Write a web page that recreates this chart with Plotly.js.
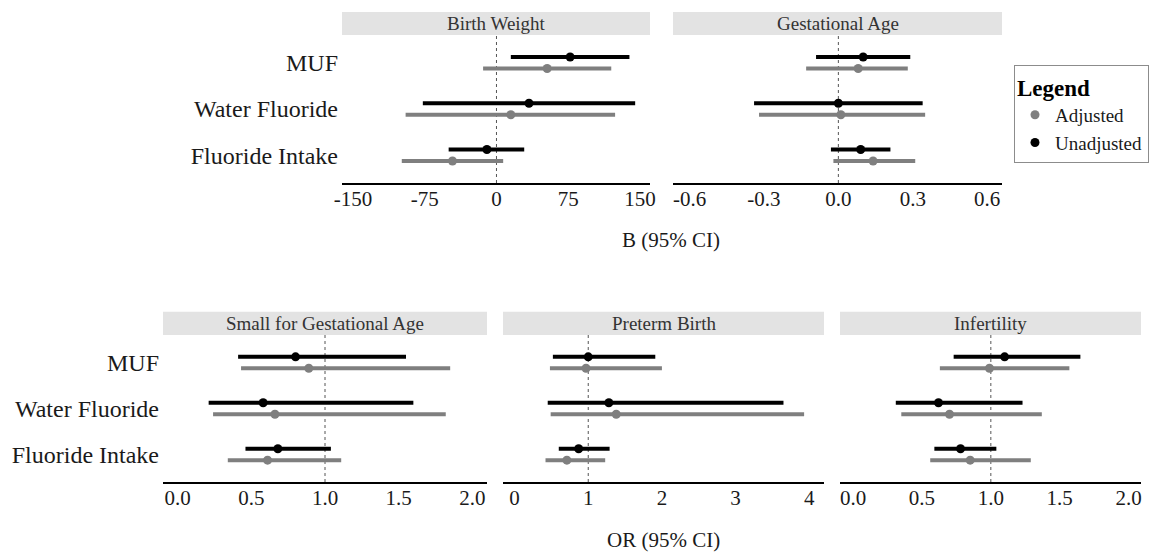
<!DOCTYPE html>
<html>
<head>
<meta charset="utf-8">
<script src="https://cdn.plot.ly/plotly-3.0.1.min.js"></script>
<style>html,body{margin:0;padding:0;background:#fff;}#chart{width:1155px;height:560px;}</style>
</head>
<body>
<div id="chart"></div>
<script>
// Categories (display order top to bottom)
const categories = ['MUF', 'Water Fluoride', 'Fluoride Intake'];
const groups = ['Adjusted', 'Unadjusted'];

// Birth Weight (B, 95% CI)
const bwUnadjEst = [77, 34, -10];
const bwUnadjLo  = [15, -77, -50];
const bwUnadjHi  = [139, 145, 29];
const bwAdjEst   = [53, 15, -46];
const bwAdjLo    = [-14, -95, -99];
const bwAdjHi    = [120, 124, 7];

// Gestational Age (B, 95% CI)
const gaUnadjEst = [0.10, 0.00, 0.09];
const gaUnadjLo  = [-0.09, -0.34, -0.03];
const gaUnadjHi  = [0.29, 0.34, 0.21];
const gaAdjEst   = [0.08, 0.01, 0.14];
const gaAdjLo    = [-0.13, -0.32, -0.02];
const gaAdjHi    = [0.28, 0.35, 0.31];

// Small for Gestational Age (OR, 95% CI)
const sgaUnadjEst = [0.80, 0.58, 0.68];
const sgaUnadjLo  = [0.41, 0.21, 0.46];
const sgaUnadjHi  = [1.55, 1.60, 1.04];
const sgaAdjEst   = [0.89, 0.66, 0.61];
const sgaAdjLo    = [0.43, 0.24, 0.34];
const sgaAdjHi    = [1.85, 1.82, 1.11];

// Preterm Birth (OR, 95% CI)
const pbUnadjEst = [1.00, 1.28, 0.87];
const pbUnadjLo  = [0.52, 0.45, 0.60];
const pbUnadjHi  = [1.91, 3.65, 1.29];
const pbAdjEst   = [0.97, 1.38, 0.71];
const pbAdjLo    = [0.48, 0.49, 0.42];
const pbAdjHi    = [2.00, 3.93, 1.23];

// Infertility (OR, 95% CI)
const ifUnadjEst = [1.10, 0.62, 0.78];
const ifUnadjLo  = [0.73, 0.31, 0.59];
const ifUnadjHi  = [1.65, 1.23, 1.04];
const ifAdjEst   = [0.99, 0.70, 0.85];
const ifAdjLo    = [0.63, 0.35, 0.56];
const ifAdjHi    = [1.57, 1.37, 1.29];

// Tick labels
const bwTicks = [-150, -75, 0, 75, 150];
const bwTickText = ['-150', '-75', '0', '75', '150'];
const gaTicks = [-0.6, -0.3, 0, 0.3, 0.6];
const gaTickText = ['-0.6', '-0.3', '0.0', '0.3', '0.6'];
const orTicks = [0, 0.5, 1, 1.5, 2];
const orTickText = ['0.0', '0.5', '1.0', '1.5', '2.0'];
const pbTicks = [0, 1, 2, 3, 4];
const pbTickText = ['0', '1', '2', '3', '4'];

const panelTitles = ['Birth Weight', 'Gestational Age', 'Small for Gestational Age', 'Preterm Birth', 'Infertility'];

const FONT = 'Liberation Serif';
const COL_ADJ = '#7f7f7f';
const COL_UNADJ = '#000000';
const DODGE = 0.125;

const catPos = categories.map((c, i) => categories.length - i);
const tickVals = catPos;

const panels = [
  {xa: 'x',  ya: 'y',  un: [bwUnadjEst, bwUnadjLo, bwUnadjHi],   ad: [bwAdjEst, bwAdjLo, bwAdjHi]},
  {xa: 'x2', ya: 'y2', un: [gaUnadjEst, gaUnadjLo, gaUnadjHi],   ad: [gaAdjEst, gaAdjLo, gaAdjHi]},
  {xa: 'x3', ya: 'y3', un: [sgaUnadjEst, sgaUnadjLo, sgaUnadjHi], ad: [sgaAdjEst, sgaAdjLo, sgaAdjHi]},
  {xa: 'x4', ya: 'y4', un: [pbUnadjEst, pbUnadjLo, pbUnadjHi],   ad: [pbAdjEst, pbAdjLo, pbAdjHi]},
  {xa: 'x5', ya: 'y5', un: [ifUnadjEst, ifUnadjLo, ifUnadjHi],   ad: [ifAdjEst, ifAdjLo, ifAdjHi]}
];

function mkTrace(p, set, name, color, offset, show) {
  const [est, lo, hi] = set;
  return {
    type: 'scatter', mode: 'markers',
    x: est, y: catPos.map(v => v + offset),
    xaxis: p.xa, yaxis: p.ya,
    name: name, legendgroup: name, showlegend: show,
    marker: {color: color, size: 9},
    error_x: {
      type: 'data', symmetric: false,
      array: hi.map((h, i) => h - est[i]),
      arrayminus: lo.map((l, i) => est[i] - l),
      color: color, thickness: 4, width: 0
    },
    hoverinfo: 'skip'
  };
}

const traces = [];
panels.forEach((p, k) => {
  traces.push(mkTrace(p, p.ad, groups[0], COL_ADJ, -DODGE, k === 0));
  traces.push(mkTrace(p, p.un, groups[1], COL_UNADJ, DODGE, k === 0));
});

const W = 1155, H = 560;
const topY = [1 - 183 / H, 1 - 35 / H];
const botY = [1 - 482 / H, 1 - 335 / H];

function xAxis(dom, rng, tv, tt, anchor) {
  return {
    domain: dom, range: rng, anchor: anchor,
    tickvals: tv, ticktext: tt, ticks: '',
    ticklabelstandoff: -4,
    showgrid: false, zeroline: false,
    showline: true, linecolor: '#000', linewidth: 2,
    tickfont: {family: FONT, size: 21, color: '#1a1a1a'},
    fixedrange: true
  };
}
function yAxis(dom, anchor, showLabels) {
  return {
    domain: dom, range: [0.4, 3.6], anchor: anchor,
    tickvals: tickVals, ticktext: categories, ticks: '',
    ticklabelstandoff: 3,
    showticklabels: showLabels,
    showgrid: false, zeroline: false, showline: false,
    tickfont: {family: FONT, size: 24, color: '#1a1a1a'},
    fixedrange: true
  };
}

const layout = {
  width: W, height: H,
  margin: {l: 0, r: 0, t: 0, b: 0},
  paper_bgcolor: '#fff', plot_bgcolor: '#fff',
  font: {family: FONT, color: '#1a1a1a'},
  xaxis:  xAxis([342 / W, 650 / W], [-161.5, 160.5], bwTicks, bwTickText, 'y'),
  xaxis2: xAxis([673 / W, 1002 / W], [-0.667, 0.66], gaTicks, gaTickText, 'y2'),
  xaxis3: xAxis([163 / W, 487 / W], [-0.1, 2.1], orTicks, orTickText, 'y3'),
  xaxis4: xAxis([503 / W, 824 / W], [-0.157, 4.2], pbTicks, pbTickText, 'y4'),
  xaxis5: xAxis([840 / W, 1141 / W], [-0.095, 2.09], orTicks, orTickText, 'y5'),
  yaxis:  yAxis(topY, 'x', true),
  yaxis2: yAxis(topY, 'x2', false),
  yaxis3: yAxis(botY, 'x3', true),
  yaxis4: yAxis(botY, 'x4', false),
  yaxis5: yAxis(botY, 'x5', false),
  showlegend: true,
  legend: {
    x: 1014 / W, y: 1 - 65 / H, xanchor: 'left', yanchor: 'top',
    bordercolor: '#8c8c8c', borderwidth: 1, bgcolor: '#fff',
    title: {text: '<b>Legend</b>', font: {family: FONT, size: 23, color: '#000'}},
    font: {family: FONT, size: 19, color: '#1a1a1a'},
    tracegroupgap: 0, itemwidth: 30
  },
  shapes: [],
  annotations: []
};

const refLines = [0, 0, 1, 1, 1];
panels.forEach((p, k) => {
  const xn = p.xa === 'x' ? '' : p.xa.slice(1);
  const top = k < 2;
  // strip background
  layout.shapes.push({
    type: 'rect', xref: 'x' + xn + ' domain', yref: 'paper',
    x0: 0, x1: 1,
    y0: top ? 1 - 35 / H : 1 - 335 / H,
    y1: top ? 1 - 12 / H : 1 - 311.7 / H,
    fillcolor: '#e3e3e3', line: {width: 0}, layer: 'below'
  });
  // reference line
  layout.shapes.push({
    type: 'line', xref: 'x' + xn, yref: 'y' + xn + ' domain',
    x0: refLines[k], x1: refLines[k], y0: 0, y1: 1,
    line: {color: '#555', width: 1, dash: 'dot'}, layer: 'below'
  });
  layout.annotations.push({
    xref: 'x' + xn + ' domain', yref: 'paper', x: 0.5,
    y: top ? 1 - 23.5 / H : 1 - 323.3 / H,
    text: panelTitles[k], showarrow: false,
    xanchor: 'center', yanchor: 'middle',
    font: {family: FONT, size: 19, color: '#333'}
  });
});

layout.annotations.push({
  xref: 'paper', yref: 'paper', x: 671 / W, y: 1 - 240 / H,
  text: 'B (95% CI)', showarrow: false, xanchor: 'center', yanchor: 'middle',
  font: {family: FONT, size: 21, color: '#1a1a1a'}
});
layout.annotations.push({
  xref: 'paper', yref: 'paper', x: 663 / W, y: 1 - 540 / H,
  text: 'OR (95% CI)', showarrow: false, xanchor: 'center', yanchor: 'middle',
  font: {family: FONT, size: 21, color: '#1a1a1a'}
});

Plotly.newPlot('chart', traces, layout, {displayModeBar: false, staticPlot: true});
</script>
</body>
</html>
